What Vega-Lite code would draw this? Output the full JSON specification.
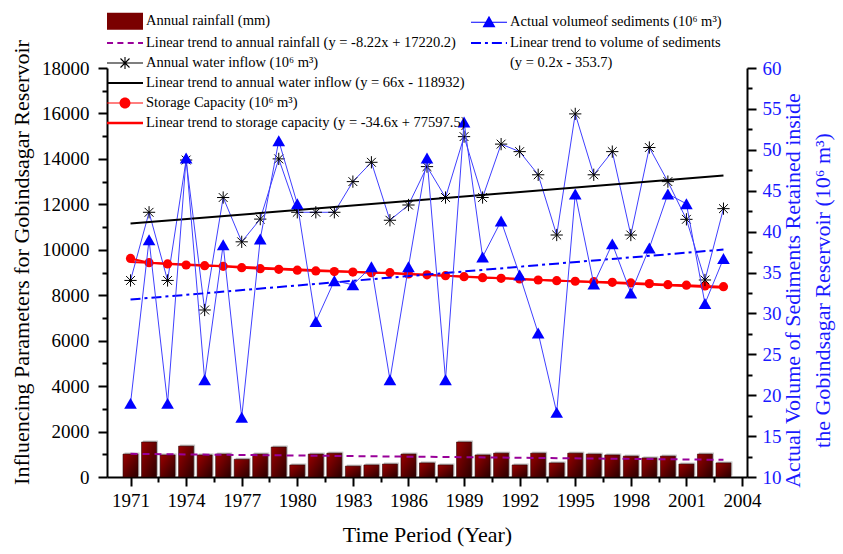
{
  "$schema": "https://vega.github.io/schema/vega-lite/v6.json",
  "width": 640,
  "height": 409,
  "padding": {"top": 12, "left": 10, "right": 5, "bottom": 5},
  "background": "white",
  "config": {
    "font": "Liberation Serif",
    "view": {"stroke": null},
    "axis": {
      "grid": false,
      "domainColor": "black",
      "domainWidth": 2,
      "tickColor": "black",
      "tickWidth": 2,
      "labelColor": "black",
      "labelFont": "Liberation Serif",
      "labelFontSize": 19,
      "titleFont": "Liberation Serif",
      "titleFontSize": 22,
      "titleFontWeight": "normal",
      "titleColor": "black",
      "labelOverlap": false,
      "labelBound": false,
      "labelFlush": false
    }
  },
  "datasets": {
    "main": [
      {"year": 1971, "rain": 1010, "inflow": 8650, "storage": 9620, "sed": 19.0},
      {"year": 1972, "rain": 1540, "inflow": 11650, "storage": 9430, "sed": 39.0},
      {"year": 1973, "rain": 970, "inflow": 8650, "storage": 9375, "sed": 19.0},
      {"year": 1974, "rain": 1360, "inflow": 13950, "storage": 9330, "sed": 49.0},
      {"year": 1975, "rain": 970, "inflow": 7350, "storage": 9300, "sed": 21.9},
      {"year": 1976, "rain": 1010, "inflow": 12300, "storage": 9270, "sed": 38.4},
      {"year": 1977, "rain": 780, "inflow": 10350, "storage": 9210, "sed": 17.3},
      {"year": 1978, "rain": 1010, "inflow": 11350, "storage": 9170, "sed": 39.1},
      {"year": 1979, "rain": 1320, "inflow": 14000, "storage": 9140, "sed": 51.1},
      {"year": 1980, "rain": 530, "inflow": 11650, "storage": 9100, "sed": 43.4},
      {"year": 1981, "rain": 1010, "inflow": 11650, "storage": 9070, "sed": 29.0},
      {"year": 1982, "rain": 1050, "inflow": 11650, "storage": 9040, "sed": 34.0},
      {"year": 1983, "rain": 480, "inflow": 13000, "storage": 9020, "sed": 33.5},
      {"year": 1984, "rain": 530, "inflow": 13850, "storage": 8990, "sed": 35.7},
      {"year": 1985, "rain": 570, "inflow": 11300, "storage": 8990, "sed": 21.9},
      {"year": 1986, "rain": 1010, "inflow": 11970, "storage": 8935, "sed": 35.7},
      {"year": 1987, "rain": 620, "inflow": 13660, "storage": 8900, "sed": 49.0},
      {"year": 1988, "rain": 530, "inflow": 12300, "storage": 8860, "sed": 21.9},
      {"year": 1989, "rain": 1540, "inflow": 14980, "storage": 8815, "sed": 53.4},
      {"year": 1990, "rain": 970, "inflow": 12300, "storage": 8770, "sed": 36.9},
      {"year": 1991, "rain": 1050, "inflow": 14650, "storage": 8745, "sed": 41.3},
      {"year": 1992, "rain": 530, "inflow": 14320, "storage": 8715, "sed": 34.7},
      {"year": 1993, "rain": 1050, "inflow": 13300, "storage": 8670, "sed": 27.6},
      {"year": 1994, "rain": 620, "inflow": 10650, "storage": 8640, "sed": 17.9},
      {"year": 1995, "rain": 1050, "inflow": 15980, "storage": 8615, "sed": 44.6},
      {"year": 1996, "rain": 1010, "inflow": 13300, "storage": 8595, "sed": 33.6},
      {"year": 1997, "rain": 970, "inflow": 14320, "storage": 8570, "sed": 38.5},
      {"year": 1998, "rain": 920, "inflow": 10650, "storage": 8540, "sed": 32.5},
      {"year": 1999, "rain": 840, "inflow": 14500, "storage": 8510, "sed": 38.0},
      {"year": 2000, "rain": 920, "inflow": 13000, "storage": 8465, "sed": 44.6},
      {"year": 2001, "rain": 570, "inflow": 11340, "storage": 8440, "sed": 43.4},
      {"year": 2002, "rain": 1010, "inflow": 8670, "storage": 8410, "sed": 31.2},
      {"year": 2003, "rain": 620, "inflow": 11810, "storage": 8375, "sed": 36.7}
    ],
    "trends": [
      {"year": 1971, "value": 1019, "series": "rainT"},
      {"year": 2003, "value": 756, "series": "rainT"},
      {"year": 1971, "value": 11154, "series": "inflowT"},
      {"year": 2003, "value": 13266, "series": "inflowT"},
      {"year": 1971, "value": 9460, "series": "storeT"},
      {"year": 2003, "value": 8330, "series": "storeT"},
      {"year": 1971, "value": 31.7, "series": "sedT"},
      {"year": 2003, "value": 37.8, "series": "sedT"}
    ],
    "legendKeys": [
      {"series": "rain"}, {"series": "rainT"}, {"series": "inflow"}, {"series": "inflowT"},
      {"series": "store"}, {"series": "storeT"}, {"series": "sed"}, {"series": "sedT"},
      {"series": "sedT2"}, {"series": "b1"}, {"series": "b2"}, {"series": "b3"}
    ]
  },
  "resolve": {"scale": {"y": "independent"}, "axis": {"x": "independent", "y": "independent"}},
  "layer": [
    {
      "resolve": {"axis": {"x": "independent", "y": "independent"}},
      "layer": [
        {
          "data": {"name": "main"},
          "mark": {"type": "bar", "width": 15, "fill": "#c4c4c4", "xOffset": 1.5, "yOffset": -1.5},
          "encoding": {
            "x": {"field": "year", "type": "quantitative", "scale": {"domain": [1970, 2004], "nice": false, "zero": false},
              "axis": {"orient": "bottom", "values": [1971, 1974, 1977, 1980, 1983, 1986, 1989, 1992, 1995, 1998, 2001, 2004], "format": "d", "tickSize": 9, "labelPadding": 5, "title": "Time Period (Year)", "titlePadding": 14}},
            "y": {"field": "rain", "type": "quantitative", "scale": {"domain": [0, 18000], "nice": false, "zero": true},
              "axis": {"orient": "left", "values": [0, 2000, 4000, 6000, 8000, 10000, 12000, 14000, 16000, 18000], "format": "d", "tickSize": 9, "labelPadding": 9, "title": "Influencing Parameters for Gobindsagar Reservoir", "titlePadding": 8, "titleY": 194}}
          }
        },
        {
          "data": {"name": "main"},
          "mark": {"type": "bar", "width": 15, "stroke": "#2a0000", "strokeWidth": 0.6,
            "fill": {"gradient": "linear", "x1": 0, "y1": 0, "x2": 1, "y2": 1, "stops": [{"offset": 0, "color": "#9c0000"}, {"offset": 1, "color": "#2a0000"}]}},
          "encoding": {
            "x": {"field": "year", "type": "quantitative",
              "axis": {"orient": "bottom", "values": [1972.5, 1975.5, 1978.5, 1981.5, 1984.5, 1987.5, 1990.5, 1993.5, 1996.5, 1999.5, 2002.5], "tickSize": 5, "labels": false, "domain": false, "title": null}},
            "y": {"field": "rain", "type": "quantitative",
              "axis": {"orient": "left", "values": [1000, 3000, 5000, 7000, 9000, 11000, 13000, 15000, 17000], "tickSize": 5, "labels": false, "domain": false, "title": null}}
          }
        },
        {
          "data": {"name": "trends"},
          "transform": [{"filter": "datum.series == 'rainT'"}],
          "mark": {"type": "line", "color": "#990099", "strokeWidth": 2, "strokeDash": [7, 5]},
          "encoding": {
            "x": {"field": "year", "type": "quantitative", "axis": null},
            "y": {"field": "value", "type": "quantitative", "axis": null}
          }
        },
        {
          "data": {"name": "trends"},
          "transform": [{"filter": "datum.series == 'storeT'"}],
          "mark": {"type": "line", "color": "#ff0000", "strokeWidth": 2},
          "encoding": {
            "x": {"field": "year", "type": "quantitative", "axis": null},
            "y": {"field": "value", "type": "quantitative", "axis": null}
          }
        },
        {
          "data": {"name": "main"},
          "mark": {"type": "line", "color": "#4040ff", "strokeWidth": 1},
          "encoding": {
            "x": {"field": "year", "type": "quantitative", "axis": null},
            "y": {"field": "inflow", "type": "quantitative", "axis": null}
          }
        },
        {
          "data": {"name": "trends"},
          "transform": [{"filter": "datum.series == 'inflowT'"}],
          "mark": {"type": "line", "color": "#000000", "strokeWidth": 2},
          "encoding": {
            "x": {"field": "year", "type": "quantitative", "axis": null},
            "y": {"field": "value", "type": "quantitative", "axis": null}
          }
        },
        {
          "data": {"name": "main"},
          "mark": {"type": "line", "color": "#ff0000", "strokeWidth": 2, "point": {"filled": true, "size": 85, "color": "#ff0000", "opacity": 1}},
          "encoding": {
            "x": {"field": "year", "type": "quantitative", "axis": null},
            "y": {"field": "storage", "type": "quantitative", "axis": null}
          }
        },
        {
          "data": {"name": "main"},
          "mark": {"type": "point", "shape": "M-1,0H1M0,-1V1M-0.72,-0.72L0.72,0.72M-0.72,0.72L0.72,-0.72", "filled": false, "stroke": "black", "strokeWidth": 1, "size": 150, "opacity": 1},
          "encoding": {
            "x": {"field": "year", "type": "quantitative", "axis": null},
            "y": {"field": "inflow", "type": "quantitative", "axis": null}
          }
        },
        {
          "data": {"name": "legendKeys"},
          "mark": {"type": "point", "filled": true, "opacity": 0, "size": 1},
          "encoding": {
            "color": {
              "field": "series", "type": "nominal",
              "scale": {
                "domain": ["rain", "rainT", "inflow", "inflowT", "store", "storeT", "sed", "sedT", "sedT2", "b1", "b2", "b3"],
                "range": ["#7a0000", "#990099", "#000000", "#000000", "#ff0000", "#ff0000", "#0000ff", "#0000ff", "#ffffff", "#ffffff", "#ffffff", "#ffffff"]
              },
              "legend": {
                "orient": "none", "legendX": 9, "legendY": -56, "columns": 2, "columnPadding": 5, "rowPadding": 4, "padding": 0,
                "title": null, "symbolSize": 324, "symbolOpacity": 1, "symbolStrokeWidth": 0, "labelFont": "Liberation Serif", "labelFontSize": 14.5, "labelColor": "black",
                "labelLimit": 600, "labelOffset": 12, "gridAlign": "each",
                "labelExpr": "datum.value=='rain'?'Annual rainfall (mm)':datum.value=='sed'?'Actual volumeof sediments (10⁶ m³)':datum.value=='rainT'?'Linear trend to annual rainfall (y = -8.22x + 17220.2)':datum.value=='sedT'?'Linear trend to volume of sediments':datum.value=='inflow'?'Annual water inflow (10⁶ m³)':datum.value=='sedT2'?'(y = 0.2x - 353.7)':datum.value=='inflowT'?'Linear trend to annual water inflow (y = 66x - 118932)':datum.value=='store'?'Storage Capacity (10⁶ m³)':datum.value=='storeT'?'Linear trend to storage capacity (y = -34.6x + 77597.5)':''"
              }
            },
            "shape": {
              "field": "series", "type": "nominal",
              "scale": {
                "domain": ["rain", "rainT", "inflow", "inflowT", "store", "storeT", "sed", "sedT", "sedT2", "b1", "b2", "b3"],
                "range": [
                  "M-2,-0.94H2V0.94H-2Z",
                  "M-2,-0.11H-1.33V0.11H-2ZM-0.85,-0.11H-0.18V0.11H-0.85ZM0.3,-0.11H0.97V0.11H0.3ZM1.45,-0.11H2V0.11H1.45Z",
                  "M-2,-0.06H2V0.06H-2ZM-0.06,-0.68H0.06V0.68H-0.06ZM-0.458,-0.542L0.542,0.458L0.458,0.542L-0.542,-0.458ZM-0.542,0.458L0.458,-0.542L0.542,-0.458L-0.458,0.542Z",
                  "M-2,-0.11H2V0.11H-2Z",
                  "M-2,-0.06H2V0.06H-2ZM0.61,0A0.61,0.61,0,1,1,-0.61,0A0.61,0.61,0,1,1,0.61,0Z",
                  "M-2,-0.14H2V0.14H-2Z",
                  "M-2,-0.06H2V0.06H-2ZM0,-0.72L0.72,0.56L-0.72,0.56Z",
                  "M-2,-0.11H-0.89V0.11H-2ZM-0.45,-0.11H-0.12V0.11H-0.45ZM0.32,-0.11H1.43V0.11H0.32ZM1.87,-0.11H2V0.11H1.87Z",
                  "M0,0H0.01V0.01H0Z",
                  "M0,0H0.01V0.01H0Z",
                  "M0,0H0.01V0.01H0Z",
                  "M0,0H0.01V0.01H0Z"
                ]
              },
              "legend": {
                "orient": "none", "legendX": 9, "legendY": -56, "columns": 2, "columnPadding": 5, "rowPadding": 4, "padding": 0,
                "title": null, "symbolSize": 324, "symbolOpacity": 1, "symbolStrokeWidth": 0, "labelFont": "Liberation Serif", "labelFontSize": 14.5, "labelColor": "black",
                "labelLimit": 600, "labelOffset": 12, "gridAlign": "each",
                "labelExpr": "datum.value=='rain'?'Annual rainfall (mm)':datum.value=='sed'?'Actual volumeof sediments (10⁶ m³)':datum.value=='rainT'?'Linear trend to annual rainfall (y = -8.22x + 17220.2)':datum.value=='sedT'?'Linear trend to volume of sediments':datum.value=='inflow'?'Annual water inflow (10⁶ m³)':datum.value=='sedT2'?'(y = 0.2x - 353.7)':datum.value=='inflowT'?'Linear trend to annual water inflow (y = 66x - 118932)':datum.value=='store'?'Storage Capacity (10⁶ m³)':datum.value=='storeT'?'Linear trend to storage capacity (y = -34.6x + 77597.5)':''"
              }
            }
          }
        }
      ]
    },
    {
      "resolve": {"axis": {"y": "independent"}},
      "layer": [
        {
          "data": {"name": "trends"},
          "transform": [{"filter": "datum.series == 'sedT'"}],
          "mark": {"type": "line", "color": "#0000ff", "strokeWidth": 2, "strokeDash": [10, 4, 3, 4]},
          "encoding": {
            "x": {"field": "year", "type": "quantitative", "axis": null},
            "y": {"field": "value", "type": "quantitative", "scale": {"domain": [10, 60], "nice": false, "zero": false},
              "axis": {"orient": "right", "values": [10, 15, 20, 25, 30, 35, 40, 45, 50, 55, 60], "tickSize": 9, "labelPadding": 6, "labelColor": "#1a1aff",
                "title": ["Actual Volume of Sediments Retained inside", "the Gobindsagar Reservoir (10⁶ m³)"], "titleColor": "#1a1aff", "titleFontSize": 22, "titleAngle": 270, "titleBaseline": "top", "titleLineHeight": 30, "titleX": 35, "titleY": 222}}
          }
        },
        {
          "data": {"name": "main"},
          "mark": {"type": "line", "color": "#4040ff", "strokeWidth": 1},
          "encoding": {
            "x": {"field": "year", "type": "quantitative", "axis": null},
            "y": {"field": "sed", "type": "quantitative",
              "axis": {"orient": "right", "values": [12.5, 17.5, 22.5, 27.5, 32.5, 37.5, 42.5, 47.5, 52.5, 57.5], "tickSize": 5, "labels": false, "domain": false, "title": null}}
          }
        },
        {
          "data": {"name": "main"},
          "mark": {"type": "point", "shape": "triangle-up", "filled": true, "color": "#0000ff", "size": 160, "opacity": 1},
          "encoding": {
            "x": {"field": "year", "type": "quantitative", "axis": null},
            "y": {"field": "sed", "type": "quantitative", "axis": null}
          }
        }
      ]
    }
  ]
}
